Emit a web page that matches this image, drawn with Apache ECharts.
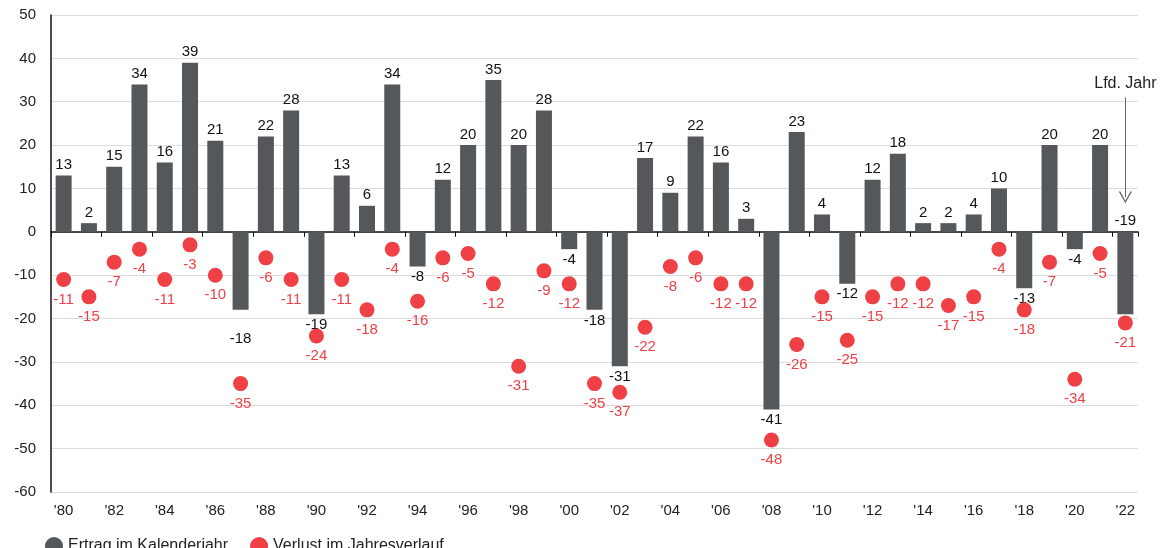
<!DOCTYPE html>
<html>
<head>
<meta charset="utf-8">
<script src="https://cdn.jsdelivr.net/npm/echarts@6/dist/echarts.min.js"></script>
<style>
html,body{margin:0;padding:0;background:#fff;}
#chart{width:1160px;height:548px;}
</style>
</head>
<body>
<div id="chart"></div>
<script>
const years = ["'80","'81","'82","'83","'84","'85","'86","'87","'88","'89","'90","'91","'92","'93","'94","'95","'96","'97","'98","'99","'00","'01","'02","'03","'04","'05","'06","'07","'08","'09","'10","'11","'12","'13","'14","'15","'16","'17","'18","'19","'20","'21","'22"];
const ertrag = [13,2,15,34,16,39,21,-18,22,28,-19,13,6,34,-8,12,20,35,20,28,-4,-18,-31,17,9,22,16,3,-41,23,4,-12,12,18,2,2,4,10,-13,20,-4,20,-19];
const verlust = [-11,-15,-7,-4,-11,-3,-10,-35,-6,-11,-24,-11,-18,-4,-16,-6,-5,-12,-31,-9,-12,-35,-37,-22,-8,-6,-12,-12,-48,-26,-15,-25,-15,-12,-12,-17,-15,-4,-18,-7,-34,-5,-21];
const yTicks = {min:-60, max:50, interval:10};
const seriesNames = ['Ertrag im Kalenderjahr','Verlust im Jahresverlauf'];
const noteText = 'Lfd. Jahr';
const noteFrom = 31, noteTo = 8;

const FONT = '"Liberation Sans", Arial, sans-serif';
const GREY = '#54585a', RED = '#ef4145';
const lastIdx = years.length - 1;

const barData = ertrag.map((v, i) => {
  let pos = v >= 0 ? 'top' : 'bottom';
  let offset = [0, 0];
  if (i === lastIdx) { pos = 'top'; }
  if (years[i] === "'87") { offset = [0, 18]; }
  return { value: v, label: { position: pos, offset: offset } };
});

const chart = echarts.init(document.getElementById('chart'), null, {renderer:'canvas'});
chart.setOption({
  animation: false,
  textStyle: { fontFamily: FONT },
  grid: { left: 51, right: 22, top: 15, bottom: 56, containLabel: false },
  legend: {
    left: 40, top: 532, itemWidth: 18, itemHeight: 18, itemGap: 22,
    icon: 'circle',
    textStyle: { fontSize: 16, color: '#222', fontFamily: FONT },
    data: seriesNames
  },
  xAxis: [{
    type: 'category', data: years, position: 'bottom',
    axisLine: { show: false, onZero: false }, axisTick: { show: false },
    axisLabel: { interval: 1, fontSize: 15, color: '#222', margin: 11, fontFamily: FONT }
  }, {
    type: 'category', data: years, position: 'top',
    axisLine: { show: true, onZero: true, lineStyle: { color: '#111', width: 1.5 } },
    axisTick: { show: true, interval: 1, inside: true, length: 5, lineStyle: { color: '#111', width: 1 } },
    axisLabel: { show: false }
  }],
  yAxis: {
    type: 'value', min: yTicks.min, max: yTicks.max, interval: yTicks.interval,
    axisLine: { show: true, lineStyle: { color: '#111', width: 1.5 } },
    axisTick: { show: false },
    axisLabel: { fontSize: 15, color: '#222', margin: 15, fontFamily: FONT },
    splitLine: { lineStyle: { color: '#dcdcdc', width: 1 } }
  },
  series: [{
    name: seriesNames[0], type: 'bar', xAxisIndex: 0, data: barData,
    barWidth: 16, itemStyle: { color: GREY },
    label: { show: true, fontSize: 15, color: '#111', distance: 3, fontFamily: FONT },
    z: 2,
    markLine: {
      silent: true, animation: false,
      symbol: ['none', 'path://M5,0 L10,10 L9,10.6 L5,2.2 L1,10.6 L0,10 Z'],
      symbolSize: [13, 12],
      lineStyle: { color: '#666', width: 1, type: 'solid' },
      label: { show: true, position: 'start', formatter: noteText, fontSize: 16, color: '#222', distance: 6, fontFamily: FONT },
      data: [[{ coord: [years[lastIdx], noteFrom] }, { coord: [years[lastIdx], noteTo] }]]
    }
  }, {
    name: seriesNames[1], type: 'scatter', xAxisIndex: 0, data: verlust,
    symbolSize: 15, itemStyle: { color: RED, opacity: 1 },
    label: { show: true, position: 'bottom', distance: 5, fontSize: 15, color: RED, fontFamily: FONT },
    z: 3
  }]
});
</script>
</body>
</html>
